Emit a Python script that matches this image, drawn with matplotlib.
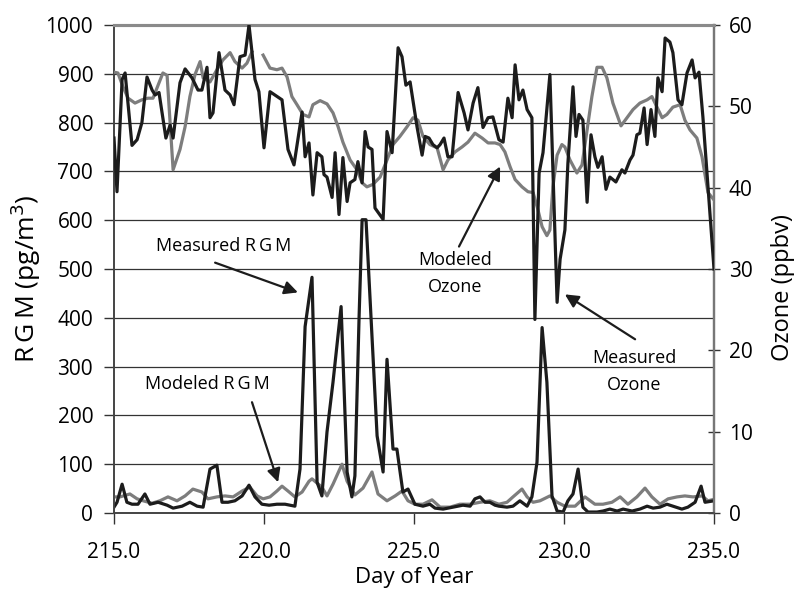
import numpy as np
import matplotlib
matplotlib.use("Agg")
import matplotlib.pyplot as plt

plt.rcParams['font.family'] = ['Open Sans', 'DejaVu Sans']

# ---------------- data ----------------
o3_meas_day = [215.00, 215.10, 215.27, 215.37, 215.60, 215.77, 215.93, 216.10, 216.27, 216.37,
               216.50, 216.73, 216.87, 216.97, 217.20, 217.37, 217.60, 217.80, 217.93, 218.10,
               218.20, 218.30, 218.50, 218.70, 218.87, 219.00, 219.20, 219.37, 219.50, 219.70,
               219.83, 220.00, 220.20, 220.60, 220.80, 221.00, 221.27, 221.37, 221.50, 221.63,
               221.77, 221.93, 222.00, 222.10, 222.27, 222.37, 222.50, 222.63, 222.77, 222.87,
               223.03, 223.13, 223.27, 223.37, 223.47, 223.60, 223.70, 223.97, 224.10, 224.27,
               224.47, 224.60, 224.73, 224.87, 225.10, 225.27, 225.37, 225.50, 225.63, 225.77,
               225.87, 226.00, 226.13, 226.27, 226.47, 226.67, 226.80, 226.97, 227.13, 227.30,
               227.47, 227.63, 227.83, 227.97, 228.13, 228.27, 228.37, 228.50, 228.63, 228.77,
               228.93, 229.03, 229.17, 229.30, 229.53, 229.77, 229.87, 230.03, 230.13, 230.30,
               230.40, 230.50, 230.63, 230.77, 230.90, 231.03, 231.13, 231.27, 231.40, 231.53,
               231.73, 231.93, 232.03, 232.20, 232.30, 232.43, 232.53, 232.67, 232.77, 232.90,
               233.03, 233.13, 233.27, 233.37, 233.53, 233.63, 233.80, 233.93, 234.10, 234.27,
               234.37, 234.50, 234.63, 235.00]
o3_meas = [46.1, 39.5, 53.3, 54.1, 45.2, 45.9, 48.0, 53.6, 52.0, 51.4,
           51.7, 46.1, 47.7, 46.1, 52.9, 54.6, 53.5, 52.0, 52.0, 54.8,
           48.6, 49.2, 56.6, 52.0, 51.4, 50.2, 56.1, 56.3, 60.0, 53.3,
           51.8, 44.9, 51.8, 50.8, 44.7, 42.8, 49.3, 43.8, 45.5, 39.1,
           44.3, 43.8, 41.6, 41.3, 38.8, 44.3, 36.7, 43.7, 38.3, 40.6,
           41.0, 43.2, 40.6, 46.9, 45.0, 44.7, 37.5, 36.1, 46.9, 44.3,
           57.2, 56.1, 52.6, 53.0, 47.5, 44.0, 46.3, 46.1, 45.3, 44.9,
           45.3, 46.1, 43.8, 43.8, 51.7, 49.2, 47.1, 50.4, 52.3, 47.4,
           48.6, 48.7, 45.9, 45.6, 51.0, 48.6, 55.1, 50.8, 52.0, 49.6,
           48.6, 23.8, 41.8, 44.3, 53.9, 25.9, 31.2, 34.8, 43.0, 52.4,
           46.3, 49.0, 48.3, 38.2, 46.5, 43.8, 42.5, 43.8, 39.8, 41.3,
           40.7, 42.2, 41.8, 43.4, 44.0, 46.5, 46.7, 49.8, 45.3, 49.6,
           46.3, 53.5, 51.8, 58.4, 57.9, 56.6, 50.8, 50.2, 54.1, 55.7,
           53.5, 54.2, 48.7, 30.0]

o3_mod_day = [215.00, 215.13, 215.30, 215.47, 215.70, 215.93, 216.13, 216.30, 216.47, 216.63,
              216.77, 216.97, 217.20, 217.37, 217.53, 217.70, 217.87, 217.97, 218.20, 218.43,
              218.63, 218.87, 219.03, 219.27, 219.43, 219.60, 219.77, 219.97, 220.20, 220.43,
              220.60, 220.77, 220.93, 221.10, 221.30, 221.50, 221.63, 221.87, 222.10, 222.30,
              222.47, 222.63, 222.87, 223.10, 223.27, 223.43, 223.63, 223.87, 224.10, 224.30,
              224.53, 224.77, 224.97, 225.13, 225.30, 225.53, 225.77, 225.97, 226.13, 226.37,
              226.60, 226.80, 227.03, 227.27, 227.47, 227.70, 227.87, 228.03, 228.20, 228.37,
              228.60, 228.80, 228.97, 229.13, 229.27, 229.43, 229.53, 229.63, 229.77, 229.93,
              230.03, 230.20, 230.43, 230.60, 230.77, 230.93, 231.10, 231.27, 231.43, 231.63,
              231.90, 232.10, 232.30, 232.53, 232.77, 232.93, 233.10, 233.27, 233.43, 233.63,
              233.87, 234.03, 234.20, 234.43, 234.60, 234.80, 235.00]
o3_mod = [54.2, 54.1, 52.4, 51.0, 50.4, 50.8, 51.0, 51.0, 52.6, 54.1,
          53.8, 42.2, 44.7, 47.5, 51.2, 53.9, 55.5, 53.5, 53.0, 54.5,
          55.7, 56.6, 55.5, 54.7, 55.3, 56.7, np.nan, 56.3, 54.7, 54.5,
          54.7, 53.6, 51.2, 50.2, 49.0, 48.7, 50.2, 50.7, 50.3, 49.2,
          47.5, 45.6, 43.4, 42.2, 40.6, 40.1, 40.4, 41.3, 43.4, 45.3,
          46.3, 47.5, 48.6, 48.3, 46.3, 45.3, 44.9, 42.2, 43.4, 44.4,
          45.0, 45.6, 46.7, 46.1, 45.5, 45.5, 45.3, 44.4, 42.6, 41.0,
          40.1, 39.5, 39.4, 37.3, 35.2, 34.1, 34.8, 40.1, 44.0, 45.3,
          45.0, 43.4, 41.8, 42.8, 47.1, 51.2, 54.8, 54.8, 53.5, 50.4,
          47.6, 48.6, 49.6, 50.4, 50.8, 51.2, 49.9, 48.6, 49.0, 49.9,
          50.2, 48.3, 47.1, 46.1, 43.8, 39.4, 38.5]

rgm_meas_day = [215.00, 215.10, 215.27, 215.43, 215.60, 215.80, 216.03, 216.20, 216.47, 216.77,
                216.97, 217.27, 217.53, 217.77, 217.97, 218.20, 218.43, 218.60, 218.80, 219.03,
                219.27, 219.50, 219.70, 219.93, 220.17, 220.43, 220.70, 221.03, 221.20, 221.37,
                221.60, 221.77, 221.93, 222.10, 222.30, 222.57, 222.77, 222.93, 223.03, 223.17,
                223.27, 223.40, 223.77, 223.97, 224.10, 224.30, 224.43, 224.63, 224.80, 225.03,
                225.30, 225.53, 225.70, 225.97, 226.30, 226.63, 226.87, 227.03, 227.20, 227.37,
                227.53, 227.70, 227.83, 228.10, 228.30, 228.53, 228.77, 228.93, 229.10, 229.27,
                229.43, 229.60, 229.77, 229.97, 230.13, 230.30, 230.47, 230.63, 230.80, 231.10,
                231.30, 231.53, 231.77, 231.97, 232.27, 232.53, 232.77, 232.97, 233.20, 233.43,
                233.63, 233.93, 234.13, 234.37, 234.57, 234.70, 235.00]
rgm_meas = [12, 22, 59, 22, 18, 18, 39, 18, 22, 16,
            10, 14, 22, 14, 12, 90, 98, 22, 22, 25,
            35, 57, 33, 18, 16, 18, 18, 14, 90, 382,
            483, 63, 35, 166, 268, 423, 84, 33, 76, 403,
            601, 601, 158, 84, 315, 131, 131, 43, 49, 18,
            14, 18, 10, 8, 12, 16, 14, 29, 33, 22,
            22, 16, 14, 12, 14, 25, 14, 33, 104, 380,
            268, 35, 4, 2, 25, 39, 90, 12, 2, 2,
            4, 8, 4, 8, 4, 8, 14, 10, 12, 18,
            14, 8, 12, 22, 55, 22, 25]

rgm_mod_day = [215.00, 215.20, 215.53, 215.77, 215.97, 216.27, 216.53, 216.80, 217.10, 217.37,
               217.63, 217.93, 218.13, 218.43, 218.70, 218.97, 219.27, 219.53, 219.77, 219.97,
               220.20, 220.43, 220.60, 220.80, 221.03, 221.27, 221.50, 221.60, 221.93, 222.10,
               222.30, 222.60, 222.77, 223.03, 223.30, 223.60, 223.80, 224.10, 224.37, 224.60,
               224.80, 225.03, 225.30, 225.60, 225.87, 226.20, 226.53, 226.87, 227.20, 227.53,
               227.83, 228.10, 228.30, 228.60, 228.77, 228.97, 229.20, 229.53, 229.77, 230.03,
               230.37, 230.70, 231.03, 231.30, 231.60, 231.87, 232.13, 232.43, 232.70, 232.93,
               233.20, 233.47, 233.77, 234.03, 234.30, 234.60, 234.80, 235.00]
rgm_mod = [33, 33, 39, 29, 25, 20, 25, 33, 25, 35,
           49, 43, 29, 33, 35, 33, 45, 53, 35, 29,
           33, 45, 55, 45, 33, 43, 65, 70, 53, 35,
           59, 100, 65, 37, 51, 84, 39, 25, 35, 45,
           25, 18, 18, 27, 12, 12, 18, 18, 22, 25,
           18, 22, 33, 49, 33, 22, 25, 35, 22, 14,
           14, 33, 18, 18, 22, 33, 18, 33, 51, 33,
           18, 29, 33, 35, 33, 35, 25, 28]

x_ticks = [215, 220, 225, 230, 235]
rgm_ticks = list(range(0, 1001, 100))
o3_ticks = list(range(0, 61, 10))

# ---------------- figure ----------------
BLACK = '#1c1c1c'
GRAY = '#7d7d7d'
TS = '\u2009'  # thin space, mimics the wide tracking of "R G M"
RGM = f"R{TS}G{TS}M"

fig = plt.figure(figsize=(8.04, 5.98), dpi=100)
ax = fig.add_axes([114 / 804, 85 / 598, 600 / 804, 488 / 598])
ax2 = ax.twinx()

ax.set_xlim(215, 235)
ax.set_ylim(0, 1000)
ax2.set_ylim(0, 60)

ax.set_yticks(rgm_ticks)
ax.set_xticks(x_ticks)
ax.set_xticklabels([f"{t:.1f}" for t in x_ticks])
ax2.set_yticks(o3_ticks)

ax.grid(axis='y', color='#333333', lw=0.9)
ax.set_axisbelow(True)

LW = 2.3
ax.plot(rgm_mod_day, rgm_mod, color=GRAY, lw=LW, zorder=3)
ax.plot(rgm_meas_day, rgm_meas, color=BLACK, lw=LW, zorder=4)
ax2.plot(o3_mod_day, o3_mod, color=GRAY, lw=LW, zorder=3)
ax2.plot(o3_meas_day, o3_meas, color=BLACK, lw=LW, zorder=4)

for a in (ax, ax2):
    for s in a.spines.values():
        s.set_color('#444444')
        s.set_linewidth(1.2)
    a.spines['top'].set_color('#8a8a8a')
    a.spines['top'].set_linewidth(2.2)
    a.spines['right'].set_color('#777777')
    a.spines['right'].set_linewidth(1.6)

ax.tick_params(axis='y', labelsize=15, length=7, width=1, color='#333333',
               direction='out', pad=8)
ax.tick_params(axis='x', labelsize=15, length=8, width=1, color='#333333',
               direction='out', pad=13)
ax2.tick_params(axis='y', labelsize=15, length=9, width=1, color='#333333',
                direction='inout', pad=6)

ax.set_ylabel(f'{RGM} (pg/m$^3$)', fontsize=19)
ax.yaxis.set_label_coords(-0.118, 0.48)
ax2.set_ylabel('Ozone (ppbv)', fontsize=17)
ax2.yaxis.set_label_coords(1.095, 0.462)
ax.set_xlabel('Day of Year', fontsize=16, labelpad=3)

arrow = dict(arrowstyle='-|>', color=BLACK, lw=1.6, mutation_scale=20,
             shrinkA=0, shrinkB=0)
TXT = 13

ax.text(218.67, 548, f'Measured {RGM}', fontsize=TXT, ha='center', va='center')
ax.annotate('', xy=(221.13, 452), xytext=(218.37, 513), arrowprops=arrow)

ax.text(218.10, 264, f'Modeled {RGM}', fontsize=TXT, ha='center', va='center')
ax.annotate('', xy=(220.47, 63), xytext=(219.60, 227), arrowprops=arrow)

ax.text(226.37, 491, 'Modeled\nOzone', fontsize=TXT, ha='center', va='center',
        linespacing=1.6)
ax.annotate('', xy=(227.87, 710), xytext=(226.50, 546), arrowprops=arrow)

ax.text(232.33, 290, 'Measured\nOzone', fontsize=TXT, ha='center', va='center',
        linespacing=1.6)
ax.annotate('', xy=(230.03, 448), xytext=(232.37, 356), arrowprops=arrow)

fig.savefig('out.png', dpi=100)
